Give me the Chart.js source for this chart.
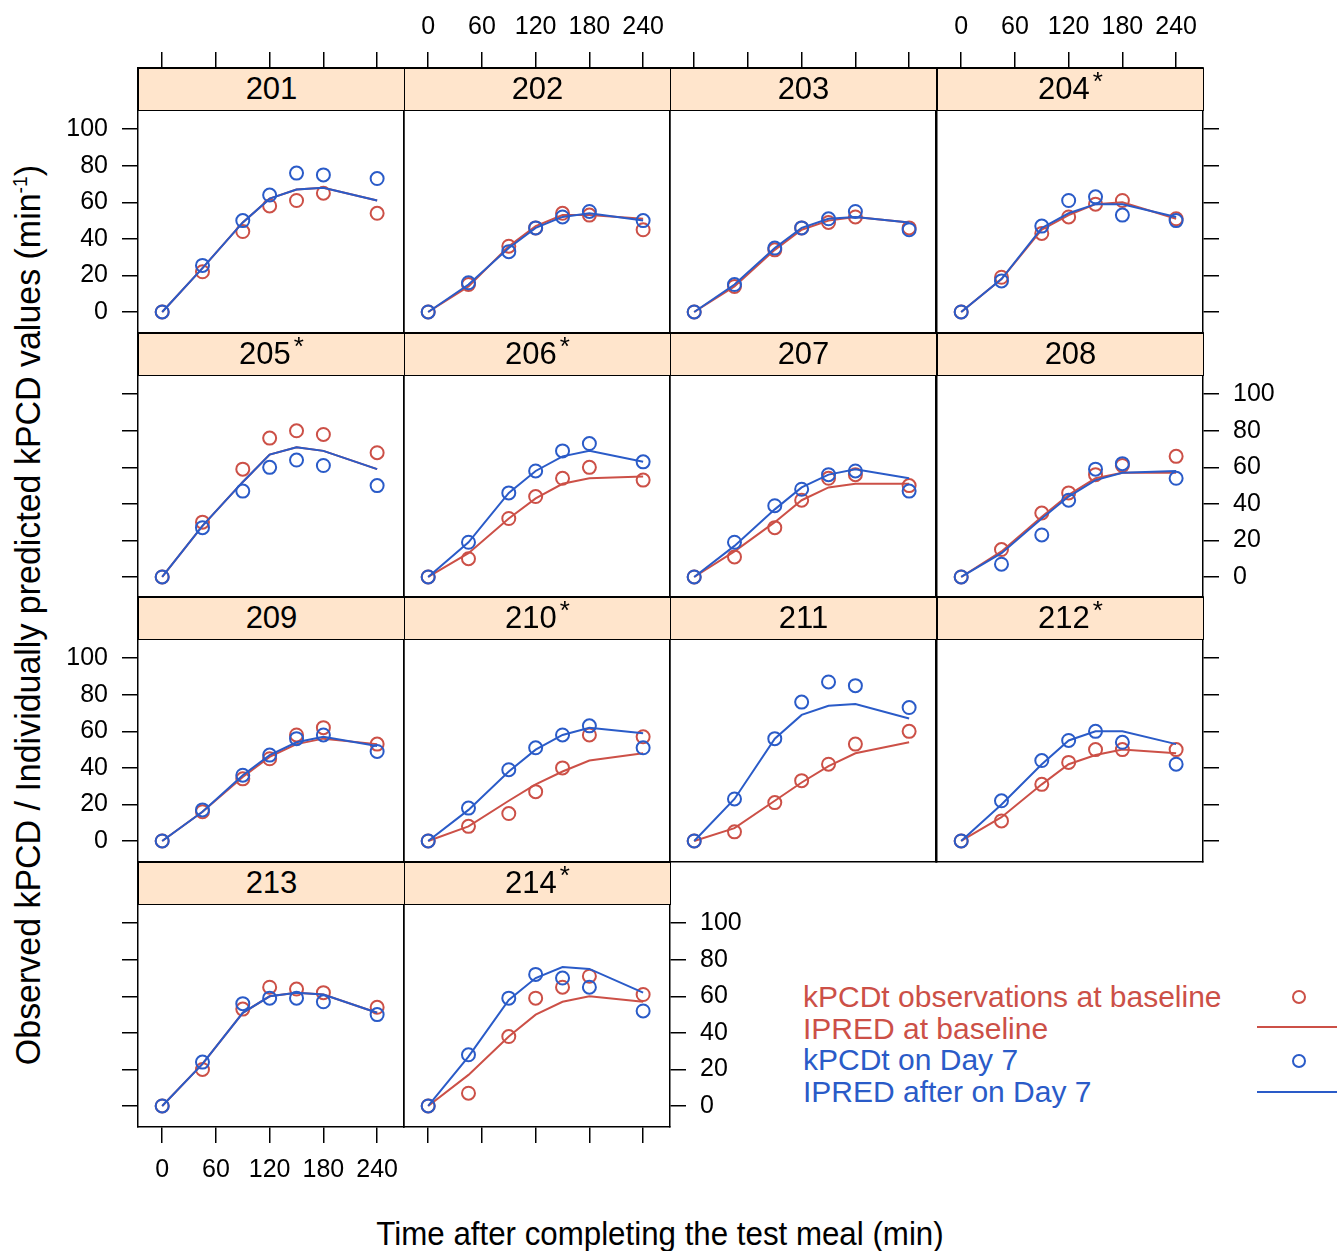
<!DOCTYPE html>
<html lang="en">
<head>
<meta charset="UTF-8">
<title>kPCD profiles</title>
<script src="https://cdn.jsdelivr.net/npm/chart.js"></script>
<style>
    body {
        margin: 0;
        width: 1337px;
        height: 1251px;
        position: relative;
        overflow: hidden;
        background: #fff;
        font-family: 'Liberation Sans', Arial, sans-serif;
        color: #000;
    }
    .panel { position: absolute; }
    .strip {
        position: absolute;
        box-sizing: border-box;
        background: #ffe5cc;
        border: 1.5px solid #000;
        text-align: center;
        font-size: 31px;
        line-height: 40px;
        z-index: 5;
    }
    .strip sup { font-size: 26px; position: relative; top: -3px; margin-left: 3px; vertical-align: top; line-height: 30px; }
    .xtitle {
        position: absolute; left: 660px; top: 1214px; white-space: nowrap;
        transform: translateX(-50%) scaleX(0.92); font-size: 34px;
    }
    .ytitle {
        position: absolute; left: 28px; top: 615px; white-space: nowrap;
        transform: translate(-50%, -50%) rotate(-90deg) scaleX(0.97); font-size: 35px;
    }
    .legend { position: absolute; left: 803px; top: 981px; font-size: 30px; line-height: 31.5px; }
    .red { color: #cc5047; }
    .blue { color: #2a5bc8; }
    .lg-pt { position: absolute; width: 14px; height: 14px; border-radius: 50%; box-sizing: border-box; }
    .lg-ln { position: absolute; left: 1257px; width: 80px; height: 2px; }
</style>
</head>
<body>
<div id="panels"></div>
<div class="xtitle">Time after completing the test meal (min)</div>
<div class="ytitle">Observed kPCD / Individually predicted kPCD values (min<sup style="font-size:20px">-1</sup>)</div>
<div class="legend">
    <div class="red">kPCDt observations at baseline</div>
    <div class="red">IPRED at baseline</div>
    <div class="blue">kPCDt on Day 7</div>
    <div class="blue">IPRED after on Day 7</div>
</div>
<div class="lg-pt" style="left:1292px; top:990px; border:2px solid #cc5047"></div>
<div class="lg-ln" style="top:1026px; background:#cc5047"></div>
<div class="lg-pt" style="left:1292px; top:1054px; border:2px solid #2a5bc8"></div>
<div class="lg-ln" style="top:1091px; background:#2a5bc8"></div>

<script>
    const times = [0, 45, 90, 120, 150, 180, 240];
    const xTicks = [0, 60, 120, 180, 240];
    const yTicks = [0, 20, 40, 60, 80, 100];
    const subjects = ['201', '202', '203', '204', '205', '206', '207', '208', '209', '210', '211', '212', '213', '214'];
    const starred = ['204', '205', '206', '210', '212', '214'];

    // red circles
    const baselineObs = [
        [0, 22, 44, 58, 61, 65, 54],
        [0, 15, 36, 46, 54, 53, 45],
        [0, 14, 34, 46, 49, 52, 46],
        [0, 19, 43, 52, 59, 61, 51],
        [0, 30, 59, 76, 80, 78, 68],
        [0, 10, 32, 44, 54, 60, 53],
        [0, 11, 27, 42, 54, 56, 50],
        [0, 15, 35, 46, 56, 61, 66],
        [0, 16, 34, 45, 58, 62, 53],
        [0, 8, 15, 27, 40, 58, 57],
        [0, 5, 21, 33, 42, 53, 60],
        [0, 11, 31, 43, 50, 50, 50],
        [0, 20, 53, 65, 64, 62, 54],
        [0, 7, 38, 59, 65, 71, 61]
    ];
    // red lines
    const baselinePred = [
        [0, 24, 49, 62, 67, 68, 61],
        [0, 14, 36, 47, 53, 53, 51],
        [0, 14, 34, 45, 50, 52, 49],
        [0, 18, 45, 53, 59, 60, 51],
        [0, 28, 52, 67, 71, 69, 59],
        [0, 13, 32, 43, 51, 54, 55],
        [0, 14, 30, 42, 49, 51, 51],
        [0, 14, 33, 45, 54, 57, 57],
        [0, 16, 35, 46, 53, 56, 53],
        [0, 8, 22, 31, 38, 44, 48],
        [0, 7, 22, 32, 41, 48, 54],
        [0, 13, 31, 42, 47, 50, 48],
        [0, 23, 51, 60, 62, 61, 51],
        [0, 17, 38, 50, 57, 60, 57]
    ];
    // blue circles
    const day7Obs = [
        [0, 25.5, 50, 64, 76, 75, 73],
        [0, 16, 33, 46, 52, 55, 50],
        [0, 15, 35, 46, 51, 55, 45],
        [0, 17, 47, 61, 63, 53, 50],
        [0, 27, 47, 60, 64, 61, 50],
        [0, 19, 46, 58, 69, 73, 63],
        [0, 19, 39, 48, 56, 58, 47],
        [0, 7, 23, 42, 59, 62, 54],
        [0, 17, 36, 47, 56, 58, 49],
        [0, 18, 39, 51, 58, 63, 51],
        [0, 23, 56, 76, 87, 85, 73],
        [0, 22, 44, 55, 60, 54, 42],
        [0, 24, 56, 59, 59, 57, 50],
        [0, 28, 59, 72, 70, 65, 52]
    ];
    // blue lines
    const day7Pred = [
        [0, 24, 49, 62, 67, 68, 61],
        [0, 15, 35, 46, 52, 54, 50],
        [0, 15, 35, 46, 51, 52, 49],
        [0, 18, 46, 54, 59, 59, 52],
        [0, 28, 52, 67, 71, 69, 59],
        [0, 19, 46, 58, 66, 69, 63],
        [0, 17, 37, 49, 56, 59, 54],
        [0, 13, 32, 44, 53, 57, 58],
        [0, 16, 36, 47, 54, 57, 52],
        [0, 17, 38, 50, 58, 62, 59],
        [0, 23, 56, 69, 74, 75, 67],
        [0, 20, 42, 55, 60, 60, 53],
        [0, 23, 51, 60, 62, 61, 51],
        [0, 27, 58, 70, 76, 75, 62]
    ];

    const RED = '#cc5047';
    const BLUE = '#2a5bc8';
    const FONT = "'Liberation Sans', Arial, sans-serif";

    const colLeft = [138, 404, 670, 937];
    const rowTop = [68, 333, 597, 862];
    const PW = 266, PH = 265, STRIP = 42, M = 80;
    const X_MIN = -27, X_MAX = 270;
    const Y_MIN = -11.5, Y_MAX = 133.5;   // top part of range sits under the strip

    function pts(vals) {
        return times.map((t, i) => ({ x: t, y: vals[i] }));
    }

    function xAxis(pos, ticksOn, labelsOn) {
        return {
            type: 'linear', position: pos, min: X_MIN, max: X_MAX,
            afterBuildTicks: s => { s.ticks = ticksOn ? xTicks.map(v => ({ value: v })) : []; },
            afterFit: s => { s.height = M; },
            grid: { display: ticksOn, drawOnChartArea: false, drawTicks: true, tickLength: 16, color: '#000', lineWidth: 1.5 },
            border: { display: true, color: '#000', width: 1.5 },
            ticks: { display: labelsOn, color: '#000', font: { family: FONT, size: 25 }, padding: pos === 'top' ? 10 : 12, autoSkip: false, maxRotation: 0 }
        };
    }

    function yAxis(pos, ticksOn, labelsOn) {
        return {
            type: 'linear', position: pos, min: Y_MIN, max: Y_MAX,
            afterBuildTicks: s => { s.ticks = ticksOn ? yTicks.map(v => ({ value: v })) : []; },
            afterFit: s => { s.width = M; },
            grid: { display: ticksOn, drawOnChartArea: false, drawTicks: true, tickLength: 16, color: '#000', lineWidth: 1.5 },
            border: { display: true, color: '#000', width: 1.5 },
            ticks: { display: labelsOn, color: '#000', font: { family: FONT, size: 25 }, padding: 14, autoSkip: false }
        };
    }

    const holder = document.getElementById('panels');

    subjects.forEach((subj, i) => {
        const row = Math.floor(i / 4), col = i % 4;
        const left = colLeft[col], top = rowTop[row];
        const lastInRow = (row < 3 && col === 3) || (row === 3 && col === 1);

        const wrap = document.createElement('div');
        wrap.className = 'panel';
        wrap.style.left = (left - M) + 'px';
        wrap.style.top = (top - M) + 'px';
        const canvas = document.createElement('canvas');
        canvas.width = PW + 2 * M;
        canvas.height = PH + 2 * M;
        wrap.appendChild(canvas);
        holder.appendChild(wrap);

        const strip = document.createElement('div');
        strip.className = 'strip';
        strip.style.left = left + 'px';
        strip.style.top = top + 'px';
        strip.style.width = (PW + 1) + 'px';
        strip.style.height = (STRIP + 1) + 'px';
        strip.innerHTML = subj + (starred.includes(subj) ? '<sup>*</sup>' : '');
        document.body.appendChild(strip);

        new Chart(canvas, {
            type: 'scatter',
            data: {
                datasets: [
                    { data: pts(day7Obs[i]), borderColor: BLUE, backgroundColor: 'transparent', pointRadius: 6.5, borderWidth: 2, showLine: false },
                    { data: pts(day7Pred[i]), borderColor: BLUE, pointRadius: 0, borderWidth: 2, showLine: true },
                    { data: pts(baselineObs[i]), borderColor: RED, backgroundColor: 'transparent', pointRadius: 6.5, borderWidth: 2, showLine: false },
                    { data: pts(baselinePred[i]), borderColor: RED, pointRadius: 0, borderWidth: 2, showLine: true }
                ]
            },
            options: {
                responsive: false,
                animation: false,
                layout: { padding: 0 },
                plugins: { legend: { display: false }, tooltip: { enabled: false } },
                scales: {
                    x: xAxis('bottom', row === 3, row === 3 && col === 0),
                    x2: xAxis('top', row === 0, row === 0 && col % 2 === 1),
                    y: yAxis('left', col === 0, col === 0 && row % 2 === 0),
                    y2: yAxis('right', lastInRow, lastInRow && row % 2 === 1)
                }
            }
        });
    });
</script>
</body>
</html>
